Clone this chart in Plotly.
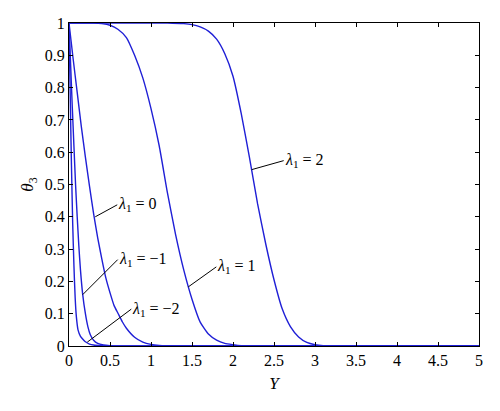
import plotly.graph_objects as go

# Curve data (Y, theta_3)
y_m2 = [0, 0.01, 0.02, 0.03, 0.045, 0.06, 0.075, 0.09, 0.11, 0.14, 0.18, 0.2, 0.25, 0.3, 0.4, 0.5, 5]
t_m2 = [1, 0.85, 0.70, 0.56, 0.38, 0.25, 0.15, 0.09, 0.05, 0.03, 0.018, 0.013, 0.006, 0.003, 0.001, 0, 0]

y_m1 = [0, 0.02, 0.04, 0.06, 0.08, 0.1, 0.12, 0.14, 0.167, 0.2, 0.23, 0.26, 0.3, 0.35, 0.42, 0.5, 0.6, 5]
t_m1 = [1, 0.87, 0.74, 0.62, 0.5, 0.4, 0.31, 0.235, 0.16, 0.1, 0.06, 0.035, 0.018, 0.008, 0.003, 0.001, 0, 0]

y_0 = [0, 0.05, 0.1, 0.15, 0.2, 0.25, 0.3, 0.35, 0.4, 0.45, 0.5, 0.55, 0.6, 0.65, 0.7, 0.8, 0.9, 1.0, 1.1, 1.2, 1.4, 5]
t_0 = [1, 0.89, 0.785, 0.68, 0.585, 0.495, 0.41, 0.335, 0.27, 0.21, 0.165, 0.125, 0.1, 0.075, 0.055, 0.027, 0.012, 0.005, 0.002, 0.001, 0, 0]

y_1 = [0, 0.3, 0.4, 0.5, 0.6, 0.7, 0.8, 0.9, 1.0, 1.1, 1.2, 1.3, 1.4, 1.5, 1.6, 1.7, 1.8, 1.9, 2.0, 2.1, 2.3, 5]
t_1 = [1, 1, 0.998, 0.993, 0.98, 0.955, 0.9, 0.83, 0.735, 0.62, 0.475, 0.345, 0.235, 0.145, 0.074, 0.037, 0.018, 0.008, 0.004, 0.001, 0, 0]

y_2 = [0, 1.2, 1.4, 1.5, 1.6, 1.7, 1.8, 1.9, 2.0, 2.1, 2.2, 2.3, 2.4, 2.5, 2.6, 2.7, 2.8, 2.9, 3.0, 3.1, 3.3, 5]
t_2 = [1, 1, 0.998, 0.995, 0.988, 0.975, 0.95, 0.905, 0.835, 0.72, 0.585, 0.44, 0.315, 0.205, 0.115, 0.06, 0.028, 0.011, 0.004, 0.001, 0, 0]

series = [(y_m2, t_m2), (y_m1, t_m1), (y_0, t_0), (y_1, t_1), (y_2, t_2)]

# Labels: text, point on curve (data), pixel offset of label
labels = ["−2", "−1", "0", "1", "2"]
label_pts = [(0.223, 0.012), (0.167, 0.159), (0.32, 0.40), (1.455, 0.183), (2.228, 0.546)]
label_off = [(44, -33), (35, -35), (22, -12), (28, -20), (32, -9)]

x_ticks = [0, 0.5, 1, 1.5, 2, 2.5, 3, 3.5, 4, 4.5, 5]
x_ticktext = ["0", "0.5", "1", "1.5", "2", "2.5", "3", "3.5", "4", "4.5", "5"]
y_ticks = [0, 0.1, 0.2, 0.3, 0.4, 0.5, 0.6, 0.7, 0.8, 0.9, 1]
y_ticktext = ["0", "0.1", "0.2", "0.3", "0.4", "0.5", "0.6", "0.7", "0.8", "0.9", "1"]

FONT = "Liberation Serif"
fig = go.Figure()
for xs, ys in series:
    fig.add_trace(go.Scatter(x=xs, y=ys, mode="lines",
                             line=dict(color="#1f1fd6", width=1.4, shape="spline", smoothing=0.5),
                             showlegend=False, hoverinfo="skip"))

for lab, (px, py), (ox, oy) in zip(labels, label_pts, label_off):
    fig.add_annotation(x=px, y=py, ax=ox, ay=oy, axref="pixel", ayref="pixel",
                       text="<i>λ</i><sub>1</sub> = " + lab,
                       showarrow=True, arrowhead=0, arrowwidth=1, arrowcolor="black",
                       xanchor="left", yanchor="middle", standoff=0, startstandoff=0,
                       borderpad=0,
                       font=dict(family=FONT, size=16, color="black"))

axis_common = dict(showline=True, linecolor="black", linewidth=1, mirror="ticks",
                   ticks="inside", ticklen=4, tickcolor="black", showgrid=False,
                   zeroline=False, automargin=False,
                   tickfont=dict(family=FONT, size=16, color="black"))

fig.update_xaxes(range=[0, 5], tickvals=x_ticks, ticktext=x_ticktext,
                 title=dict(text="<i>Y</i>", font=dict(family=FONT, size=17, color="black"), standoff=8),
                 **axis_common)
fig.update_yaxes(range=[0, 1], tickvals=y_ticks, ticktext=y_ticktext,
                 title=dict(text="<i>θ</i><sub>3</sub>", font=dict(family=FONT, size=17, color="black"), standoff=6),
                 **axis_common)

fig.update_layout(width=492, height=403, margin=dict(l=61, r=21, t=15, b=65),
                  plot_bgcolor="white", paper_bgcolor="white")

fig.write_html("out.html")
